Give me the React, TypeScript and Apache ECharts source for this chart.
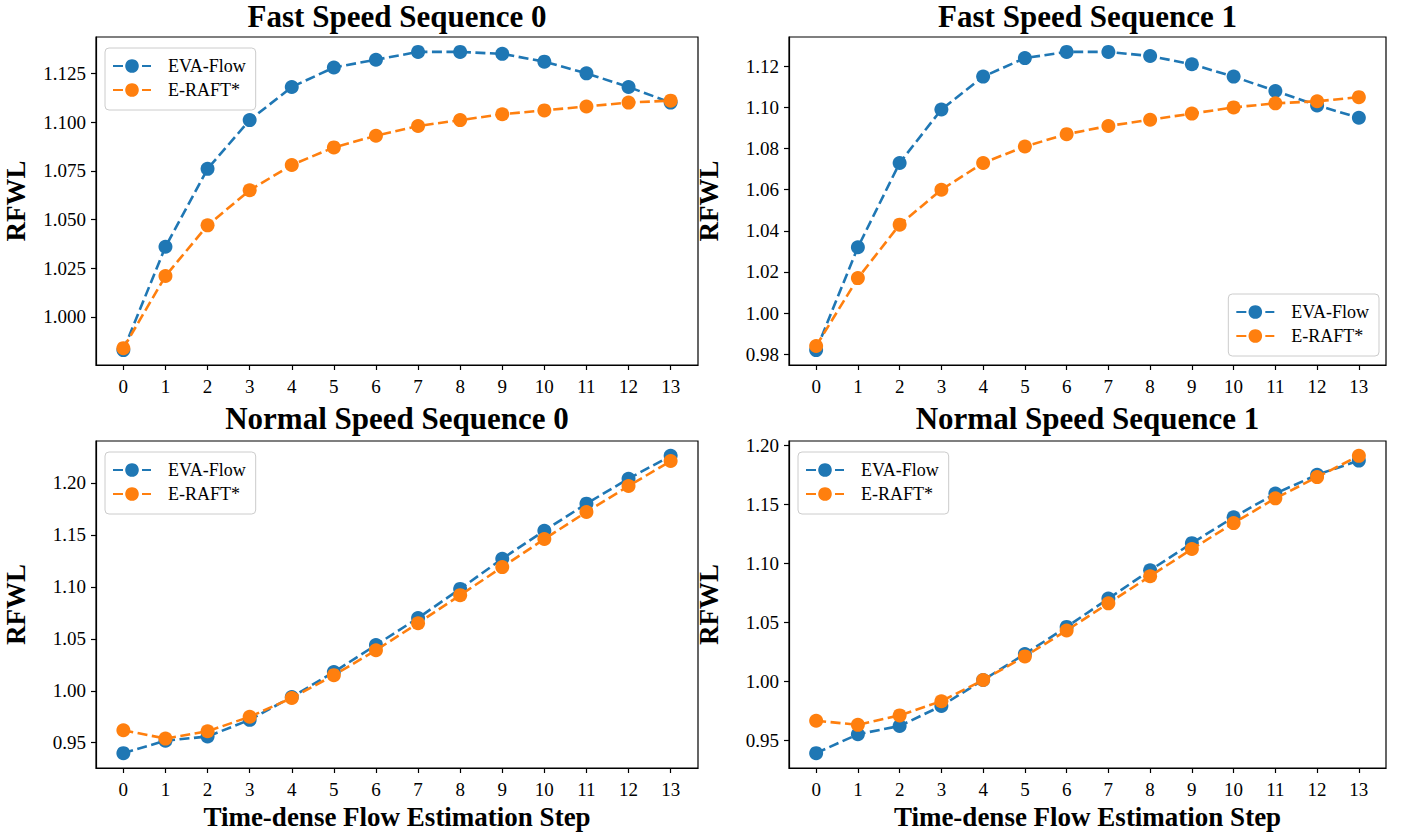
import React, { useEffect, useRef } from "react";
import * as echarts from "echarts";

const steps = [0, 1, 2, 3, 4, 5, 6, 7, 8, 9, 10, 11, 12, 13];
const seriesNames = ["EVA-Flow", "E-RAFT*"];
const titles = ["Fast Speed Sequence 0", "Fast Speed Sequence 1", "Normal Speed Sequence 0", "Normal Speed Sequence 1"];

const fast0Eva = [0.983, 1.036, 1.076, 1.101, 1.118, 1.128, 1.132, 1.136, 1.136, 1.135, 1.131, 1.125, 1.118, 1.110];
const fast0Eraft = [0.984, 1.021, 1.047, 1.065, 1.078, 1.087, 1.093, 1.098, 1.101, 1.104, 1.106, 1.108, 1.110, 1.111];
const fast1Eva = [0.982, 1.032, 1.073, 1.099, 1.115, 1.124, 1.127, 1.127, 1.125, 1.121, 1.115, 1.108, 1.101, 1.095];
const fast1Eraft = [0.984, 1.017, 1.043, 1.060, 1.073, 1.081, 1.087, 1.091, 1.094, 1.097, 1.100, 1.102, 1.103, 1.105];
const norm0Eva = [0.940, 0.952, 0.956, 0.972, 0.994, 1.018, 1.044, 1.070, 1.098, 1.127, 1.154, 1.180, 1.204, 1.226];
const norm0Eraft = [0.962, 0.954, 0.961, 0.975, 0.993, 1.015, 1.039, 1.065, 1.092, 1.119, 1.146, 1.172, 1.197, 1.221];
const norm1Eva = [0.939, 0.955, 0.962, 0.979, 1.001, 1.023, 1.046, 1.070, 1.094, 1.117, 1.139, 1.159, 1.175, 1.187];
const norm1Eraft = [0.9665, 0.963, 0.971, 0.983, 1.001, 1.021, 1.043, 1.066, 1.089, 1.112, 1.134, 1.155, 1.173, 1.191];

const fast0Ticks = [1.0, 1.025, 1.05, 1.075, 1.1, 1.125];
const fast1Ticks = [0.98, 1.0, 1.02, 1.04, 1.06, 1.08, 1.1, 1.12];
const norm0Ticks = [0.95, 1.0, 1.05, 1.1, 1.15, 1.2];
const norm1Ticks = [0.95, 1.0, 1.05, 1.1, 1.15, 1.2];

const panels = [
  { eva: fast0Eva, eraft: fast0Eraft, ticks: fast0Ticks, dec: 3 },
  { eva: fast1Eva, eraft: fast1Eraft, ticks: fast1Ticks, dec: 2 },
  { eva: norm0Eva, eraft: norm0Eraft, ticks: norm0Ticks, dec: 2 },
  { eva: norm1Eva, eraft: norm1Eraft, ticks: norm1Ticks, dec: 2 },
];

const COLORS = ["#1f77b4", "#ff7f0e"];
const FONT = "'Liberation Serif', 'Times New Roman', Times, serif";

// layout (pixels)
const grids = [
  { left: 96, right: 710, top: 37, bottom: 471 },
  { left: 789, right: 22, top: 37, bottom: 471 },
  { left: 96, right: 710, top: 441, bottom: 68 },
  { left: 789, right: 22, top: 441, bottom: 68 },
];
const legendPos = [
  { left: 105, top: 48 },
  { right: 29, bottom: 480 },
  { left: 105, top: 452 },
  { left: 798, top: 452 },
];

export default function App() {
  const ref = useRef<HTMLDivElement>(null);
  useEffect(() => {
    if (!ref.current) return;
    const chart = echarts.init(ref.current, null, { renderer: "svg" });
    const xMin = steps[0] - 0.05 * (steps[steps.length - 1] - steps[0]);
    const xMax = steps[steps.length - 1] + 0.05 * (steps[steps.length - 1] - steps[0]);

    const xAxis: any[] = [];
    const yAxis: any[] = [];
    const series: any[] = [];
    const title: any[] = [];
    const legend: any[] = [];
    const grid: any[] = [];

    panels.forEach((p, i) => {
      const g = grids[i];
      grid.push({ ...g, show: true, borderColor: "#000", borderWidth: 1.2, backgroundColor: "transparent", containLabel: false });
      const all = p.eva.concat(p.eraft);
      const lo = Math.min(...all);
      const hi = Math.max(...all);
      const pad = 0.05 * (hi - lo);
      const centerX = g.left + (1408 - g.left - g.right) / 2;
      title.push({
        text: titles[i],
        left: centerX,
        textAlign: "center",
        top: i < 2 ? 1 : 403,
        padding: 0,
        textStyle: { fontFamily: FONT, fontWeight: "bold", fontSize: 31, color: "#000" },
      });
      xAxis.push({
        type: "value",
        gridIndex: i,
        min: xMin,
        max: xMax,
        name: i >= 2 ? "Time-dense Flow Estimation Step" : "",
        nameLocation: "middle",
        nameGap: 35,
        nameTextStyle: { fontFamily: FONT, fontWeight: "bold", fontSize: 27, color: "#000" },
        axisLine: { show: true, onZero: false, lineStyle: { color: "#000", width: 1.2 } },
        axisTick: { show: true, length: 5, lineStyle: { color: "#000", width: 1.2 }, customValues: steps },
        axisLabel: {
          customValues: steps,
          margin: 12,
          fontFamily: FONT,
          fontWeight: "normal",
          fontSize: 19,
          color: "#000",
          formatter: (v: number) => String(Math.round(v)),
        },
        splitLine: { show: false },
      });
      yAxis.push({
        type: "value",
        gridIndex: i,
        min: lo - pad,
        max: hi + pad,
        name: "RFWL",
        nameLocation: "middle",
        nameGap: 67,
        nameTextStyle: { fontFamily: FONT, fontWeight: "bold", fontSize: 27, color: "#000" },
        axisLine: { show: true, onZero: false, lineStyle: { color: "#000", width: 1.2 } },
        axisTick: { show: true, length: 5, lineStyle: { color: "#000", width: 1.2 }, customValues: p.ticks },
        axisLabel: {
          customValues: p.ticks,
          margin: 10,
          fontFamily: FONT,
          fontWeight: "normal",
          fontSize: 19,
          color: "#000",
          formatter: (v: number) => v.toFixed(p.dec),
        },
        splitLine: { show: false },
      });
      [p.eva, p.eraft].forEach((vals, k) => {
        series.push({
          type: "line",
          name: seriesNames[k],
          xAxisIndex: i,
          yAxisIndex: i,
          data: steps.map((s, j) => [s, vals[j]]),
          symbol: "circle",
          symbolSize: 14,
          showSymbol: true,
          clip: false,
          itemStyle: { color: COLORS[k] },
          lineStyle: { color: COLORS[k], width: 2.6, type: [10, 4.5] },
          z: 2 + k,
        });
      });
      legend.push({
        ...legendPos[i],
        orient: "vertical",
        data: seriesNames,
        itemWidth: 38,
        itemHeight: 17,
        itemGap: 6,
        padding: [9, 10, 11, 7],
        backgroundColor: "rgba(255,255,255,0.8)",
        borderColor: "#cccccc",
        borderWidth: 1,
        borderRadius: 4,
        selectedMode: false,
        textStyle: { fontFamily: FONT, fontWeight: "normal", fontSize: 18, color: "#000", padding: [0, 0, 0, 12] },
      });
    });

    chart.setOption({
      animation: false,
      backgroundColor: "#fff",
      textStyle: { fontFamily: FONT },
      title,
      legend,
      grid,
      xAxis,
      yAxis,
      series,
    });
    return () => chart.dispose();
  }, []);
  return <div ref={ref} style={{ position: "fixed", left: 0, top: 0, width: 1408, height: 836 }} />;
}
